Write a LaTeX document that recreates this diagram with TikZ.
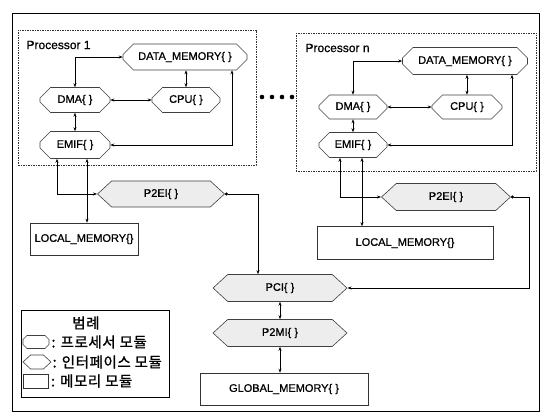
\documentclass[tikz,border=0pt]{standalone}
\usepackage{fontspec}
\setmainfont{Liberation Sans}[FakeBold=0.8]
\newfontfamily\kofont{Noto Sans CJK KR}[FakeBold=1.2, LetterSpace=4]
\usetikzlibrary{shapes.misc, shapes.symbols, arrows.meta, positioning, calc}

\begin{document}
\begin{tikzpicture}[x=1pt, y=-1pt,
  font=\fontsize{11}{13}\selectfont,
  procmod/.style={chamfered rectangle, chamfered rectangle xsep=7pt, draw=black!75, line width=0.6pt, inner sep=2pt},
  ifmod/.style={signal, signal to=west and east, signal pointer angle=85, draw=black!75, fill=black!7, line width=0.6pt, inner sep=2pt},
  memmod/.style={rectangle, draw=black!80, line width=0.6pt, inner sep=2pt},
  cpubox/.style={draw=black!80, dash pattern=on 1.5pt off 1pt, line width=0.6pt},
  cpulabel/.style={anchor=west, font=\fontsize{12}{14}\selectfont},
  link/.style={<->, >={Stealth[length=4pt,width=3pt]}, line width=0.6pt},
  buslink/.style={{Circle[length=3pt]}-{Stealth[length=4pt,width=3pt]}, line width=0.6pt},
  legtext/.style={anchor=west, font=\kofont\fontsize{14.5}{17}\selectfont, inner sep=1pt}
]
\useasboundingbox (0,0) rectangle (541,414);

% outer frame
\draw[line width=0.9pt] (12,13) rectangle (539,411);

% Processor 1
\draw[cpubox] (18,30) rectangle (256,165);
\node[cpulabel] (lbl1) at (23,45) {Processor 1};
\node[procmod, minimum width=124pt, minimum height=26pt] (dm1) at (185,57) {DATA\_MEMORY\{ \}};
\node[procmod, minimum width=70pt, minimum height=25pt] (dma1) at (75,100) {DMA\{ \}};
\node[procmod, minimum width=68pt, minimum height=25pt] (cpu1) at (186,100) {CPU\{ \}};
\node[procmod, minimum width=70pt, minimum height=27pt] (emif1) at (75,145) {EMIF\{ \}};

\draw[link] (dma1.north) |- (dm1.west);
\draw[link] (cpu1.north) -- (cpu1.north |- dm1.south);
\draw[link] (dma1.east) -- (cpu1.west);
\draw[link] (dma1.south) -- (emif1.north);
\draw[link] (emif1.east) -| ([xshift=47pt]dm1.south);

% dots between processors
\foreach \dx in {262,272,282,292}
  \fill (\dx,97) circle (2.3pt);

% Processor n
\draw[cpubox] (296,33) rectangle (536,171);
\node[cpulabel] (lbln) at (302,48) {Processor n};
\node[procmod, minimum width=125pt, minimum height=27pt] (dmn) at (465,61) {DATA\_MEMORY\{ \}};
\node[procmod, minimum width=68pt, minimum height=24pt] (dman) at (353,107) {DMA\{ \}};
\node[procmod, minimum width=70pt, minimum height=24pt] (cpun) at (467,107) {CPU\{ \}};
\node[procmod, minimum width=68pt, minimum height=25pt] (emifn) at (353,145) {EMIF\{ \}};

\draw[link] (dman.north) |- (dmn.west);
\draw[link] (cpun.north) -- (cpun.north |- dmn.south);
\draw[link] (dman.east) -- (cpun.west);
\draw[link] (dman.south) -- (emifn.north);
\draw[link] (emifn.east) -| ([xshift=47pt]dmn.south);

% local side
\node[ifmod, minimum width=127pt, minimum height=26pt] (p2ei1) at (161,194) {P2EI\{ \}};
\node[memmod, minimum width=108pt, minimum height=32pt] (lm1) at (84,239) {LOCAL\_MEMORY\{\}};
\node[ifmod, minimum width=129pt, minimum height=27pt] (p2ein) at (446,197) {P2EI\{ \}};
\node[memmod, minimum width=176pt, minimum height=33pt] (lmn) at (405,243) {LOCAL\_MEMORY\{\}};

\draw[link] ([xshift=-18pt]emif1.south) |- (p2ei1.west);
\draw[link] ([xshift=12pt]emif1.south) -- ([xshift=12pt]emif1.south |- lm1.north);
\draw[link] ([xshift=-13pt]emifn.south) |- (p2ein.west);
\draw[link] ([xshift=9pt]emifn.south) -- ([xshift=9pt]emifn.south |- lmn.north);

% global side
\node[ifmod, minimum width=134pt, minimum height=27pt] (pci) at (280,288) {PCI\{ \}};
\node[ifmod, minimum width=134pt, minimum height=27pt] (p2mi) at (280,333) {P2MI\{ \}};
\node[memmod, minimum width=168pt, minimum height=32pt] (gm) at (284,389) {GLOBAL\_MEMORY\{ \}};

\draw[buslink] (p2ei1.east) -| ([xshift=-22pt]pci.north);
\draw[buslink] (p2ein.east) -- ++(18,0) |- (pci.east);
\draw[link] (pci.south) -- (p2mi.north);
\draw[link] (p2mi.south) -- (p2mi.south |- gm.north);

% legend
\draw[line width=0.7pt] (21,310) rectangle (169,397);
\node[legtext, anchor=center] (legtitle) at (86,323) {범례};
\node[procmod, chamfered rectangle xsep=4pt, minimum width=26pt, minimum height=13pt] (legproc) at (36,342) {};
\node[legtext, right=1pt of legproc] (legproct) {: 프로세서 모듈};
\node[ifmod, fill=none, minimum width=28pt, minimum height=14pt] (legif) at (37,362) {};
\node[legtext, right=0pt of legif] (legift) {: 인터페이스 모듈};
\node[memmod, minimum width=25pt, minimum height=14pt] (legmem) at (36,381) {};
\node[legtext, right=1pt of legmem] (legmemt) {: 메모리 모듈};
\end{tikzpicture}
\end{document}
